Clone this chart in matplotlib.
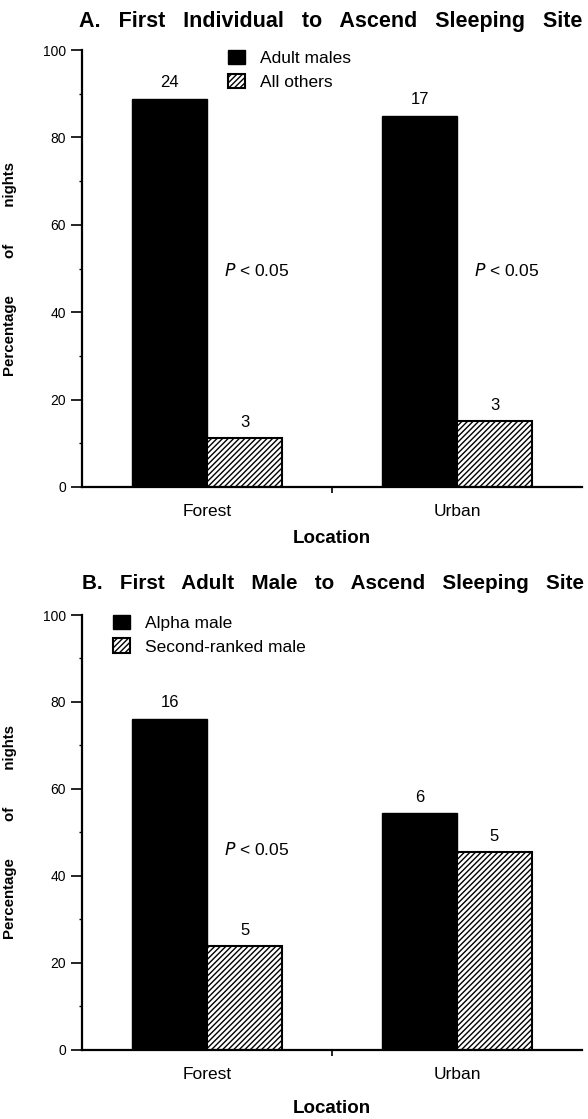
"""Two-panel bar chart: order of ascent to the sleeping site."""

import matplotlib

matplotlib.use("Agg")

import matplotlib.pyplot as plt
import numpy as np
from matplotlib.ticker import MultipleLocator

plt.rcParams["font.family"] = ["Liberation Sans", "DejaVu Sans"]
plt.rcParams["hatch.linewidth"] = 1.0

locations = ["Forest", "Urban"]

# Panel A: first individual to ascend
first_labels = ["Adult males", "All others"]
adult_male_pct = [88.9, 85.0]
all_others_pct = [11.1, 15.0]
adult_male_n = [24, 17]
all_others_n = [3, 3]
first_pvals = ["< 0.05", "< 0.05"]

# Panel B: first adult male to ascend
male_labels = ["Alpha male", "Second-ranked male"]
alpha_pct = [76.2, 54.5]
second_pct = [23.8, 45.5]
alpha_n = [16, 6]
second_n = [5, 5]
male_pvals = ["< 0.05", None]

WIDTH = 0.3


def draw_panel(ax, black_pct, hatch_pct, black_n, hatch_n, labels, pvals,
               legend_at, p_y, xlabel_y):
    x = np.arange(1, len(locations) + 1)
    b1 = ax.bar(x - WIDTH / 2, black_pct, WIDTH, color="black", edgecolor="black",
                linewidth=1.0, label=labels[0])
    b2 = ax.bar(x + WIDTH / 2, hatch_pct, WIDTH, color="white", edgecolor="black",
                hatch="//////", linewidth=1.5, label=labels[1])

    for bars, counts in ((b1, black_n), (b2, hatch_n)):
        for rect, n in zip(bars, counts):
            ax.annotate(str(n), (rect.get_x() + rect.get_width() / 2, rect.get_height()),
                        xytext=(0, 6), textcoords="offset points",
                        ha="center", va="bottom", fontsize=12)

    for xi, p in zip(x, pvals):
        if p:
            ax.text(xi + 0.2, p_y, r"$P$" + " " + p, ha="center", va="center",
                    fontsize=12.5)

    ax.set_xlim(0.5, 2.5)
    ax.set_ylim(0, 100)
    ax.yaxis.set_major_locator(MultipleLocator(20))
    ax.yaxis.set_minor_locator(MultipleLocator(10))
    ax.set_xticks(x, locations)
    ax.set_xticks([1.5], minor=True)
    ax.tick_params(axis="x", which="major", length=0, pad=12, labelsize=12.5)
    ax.tick_params(axis="x", which="minor", length=4, width=1.2)
    ax.tick_params(axis="y", which="major", length=8, width=1.2, labelsize=10, pad=3.5)
    ax.tick_params(axis="y", which="minor", length=2, width=1.0)

    for side in ("top", "right"):
        ax.spines[side].set_visible(False)
    for side in ("left", "bottom"):
        ax.spines[side].set_linewidth(1.6)

    ax.set_ylabel("Percentage         of         nights", fontsize=10.8, fontweight="bold")
    ax.yaxis.set_label_coords(-0.13, 0.5)
    ax.set_xlabel("Location", fontsize=13.5, fontweight="bold")
    ax.xaxis.set_label_coords(0.5, xlabel_y)
    ax.xaxis.label.set_va("center")

    ax.legend(loc="upper left", bbox_to_anchor=legend_at, frameon=False, fontsize=12.5,
              borderpad=0, borderaxespad=0, handlelength=1.0, handleheight=0.9,
              handletextpad=0.85, labelspacing=0.42)


fig = plt.figure(figsize=(5.88, 11.19), dpi=100)
ax_a = fig.add_axes([0.1395, 0.5648, 0.8503, 0.3905])
ax_b = fig.add_axes([0.1395, 0.0617, 0.8503, 0.3887])

draw_panel(ax_a, adult_male_pct, all_others_pct, adult_male_n, all_others_n,
           first_labels, first_pvals, (0.292, 1.0), 49.5, -0.117)
draw_panel(ax_b, alpha_pct, second_pct, alpha_n, second_n,
           male_labels, male_pvals, (0.062, 1.0), 46, -0.134)

fig.text(79 / 588, 1 - 22 / 1119, "A.   First   Individual   to   Ascend   Sleeping   Site",
         fontsize=15.5, fontweight="bold", ha="left", va="center")
fig.text(82 / 588, 1 - 583 / 1119, "B.   First   Adult   Male   to   Ascend   Sleeping   Site",
         fontsize=14.9, fontweight="bold", ha="left", va="center")

fig.savefig("out.png", dpi=100)
plt.close(fig)
